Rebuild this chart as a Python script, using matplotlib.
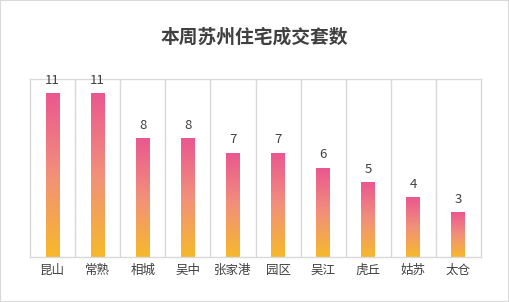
import numpy as np
import matplotlib.pyplot as plt
from matplotlib.colors import LinearSegmentedColormap
from matplotlib.patches import Rectangle

plt.rcParams['font.family'] = ['Noto Sans CJK SC', 'DejaVu Sans']

districts = ['昆山', '常熟', '相城', '吴中', '张家港', '园区', '吴江', '虎丘', '姑苏', '太仓']
deals = [11, 11, 8, 8, 7, 7, 6, 5, 4, 3]

grad = LinearSegmentedColormap.from_list('bar', ['#f6b92b', '#f2907a', '#ea5790'])
grad_img = np.linspace(0, 1, 256).reshape(-1, 1)

fig = plt.figure(figsize=(5.09, 3.02), dpi=100, facecolor='white')
fig.patches.append(Rectangle((0, 0), 1, 1, transform=fig.transFigure, fill=False,
                             edgecolor='#d9d9d9', linewidth=1.5))
ax = fig.add_axes([30 / 509, 1 - 257 / 302, 451 / 509, 178 / 302])

n = len(districts)
ax.set_xlim(-0.5, n - 0.5)
ax.set_ylim(0, 12)
width = 0.31
for i, v in enumerate(deals):
    ax.imshow(grad_img, cmap=grad, aspect='auto', origin='lower',
              extent=(i - width / 2, i + width / 2, 0, v), zorder=2)
    ax.text(i, v + 0.45, str(v), ha='center', va='bottom', fontsize=9.5, color='#404040')

for x in np.arange(0.5, n - 0.5, 1):
    ax.axvline(x, color='#d9d9d9', linewidth=1, zorder=1)
for s in ax.spines.values():
    s.set_edgecolor('#d9d9d9')
    s.set_linewidth(1)

ax.set_xticks(range(n))
ax.set_xticklabels(districts, fontsize=9, color='#404040')
ax.tick_params(axis='x', length=0, pad=5)
ax.set_yticks([])

fig.text(0.5, 1 - 37 / 302, '本周苏州住宅成交套数', ha='center', va='center',
         fontsize=13.5, fontweight='bold', color='#404040')

plt.savefig('out.png', dpi=100, facecolor='white')
